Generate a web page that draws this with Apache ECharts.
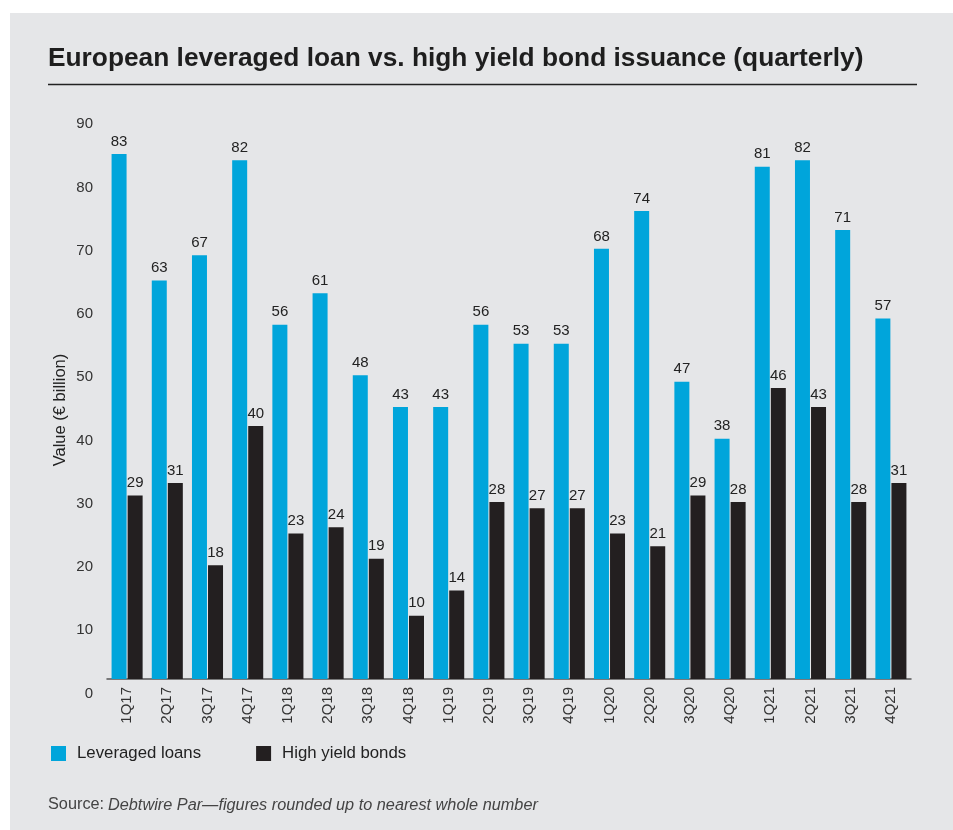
<!DOCTYPE html>
<html><head><meta charset="utf-8">
<script src="https://cdn.jsdelivr.net/npm/echarts@6/dist/echarts.min.js"></script>
<style>html,body{margin:0;padding:0;background:#fff}#c{width:953px;height:830px}</style>
</head><body><div id="c"></div>
<script>
const categories = ['1Q17','2Q17','3Q17','4Q17','1Q18','2Q18','3Q18','4Q18','1Q19','2Q19','3Q19','4Q19','1Q20','2Q20','3Q20','4Q20','1Q21','2Q21','3Q21','4Q21'];
const leveragedLoans = [83,63,67,82,56,61,48,43,43,56,53,53,68,74,47,38,81,82,71,57];
const highYieldBonds = [29,31,18,40,23,24,19,10,14,28,27,27,23,21,29,28,46,43,28,31];
const yTicks = [0,10,20,30,40,50,60,70,80,90];

const FONT = '"Liberation Sans", Arial, Helvetica, sans-serif';
const chart = echarts.init(document.getElementById('c'), null, {renderer:'canvas'});
chart.setOption({
  backgroundColor: '#ffffff',
  animation: false,
  textStyle: {fontFamily: FONT},
  graphic: [
    {type:'rect', left:10, top:13, shape:{width:943, height:817}, style:{fill:'#e5e6e8'}, z:-10},
    {type:'line', shape:{x1:48, y1:84.5, x2:917, y2:84.5}, style:{stroke:'#222', lineWidth:1.5}},
    {type:'text', x:60, y:410, rotation:Math.PI/2, style:{
      text:'Value (€ billion)', fontFamily:FONT, fontSize:16.5, fill:'#222',
      align:'center', verticalAlign:'middle'
    }},
    {type:'text', x:48, y:797, style:{
      text:'Source:', fontFamily:FONT, fontSize:16.3, fill:'#444',
      align:'left', verticalAlign:'top'
    }},
    {type:'text', x:108, y:797, style:{
      text:'Debtwire Par—figures rounded up to nearest whole number', fontFamily:FONT, fontSize:16.3,
      fontStyle:'italic', fill:'#444', align:'left', verticalAlign:'top'
    }}
  ],
  title: {
    text: 'European leveraged loan vs. high yield bond issuance (quarterly)',
    left: 48, top: 46, padding: 0,
    textStyle: {fontFamily: FONT, fontSize: 26.3, fontWeight: 'bold', color: '#1e1e1e'}
  },
  legend: {
    left: 46, top: 740, itemWidth: 15, itemHeight: 15, itemGap: 55,
    icon: 'rect',
    textStyle: {fontFamily: FONT, fontSize: 16.8, color: '#222', padding:[0,0,0,6]},
    data: ['Leveraged loans','High yield bonds']
  },
  grid: {left: 107, right: 42, top: 109.7, bottom: 151, containLabel: false},
  xAxis: {
    type: 'category', data: categories,
    axisLine: {show: true, lineStyle: {color: '#555', width: 1.5}},
    axisTick: {show: false},
    axisLabel: {rotate: 90, margin: 8, fontFamily: FONT, fontSize: 15, color: '#333'}
  },
  yAxis: {
    type: 'value', min: 0, max: 90, interval: 10,
    axisLine: {show: false}, axisTick: {show: false}, splitLine: {show: false},
    axisLabel: {
      margin: 14, fontFamily: FONT, fontSize: 15, color: '#333',
      verticalAlign: 'top', padding: [7,0,0,0],
      formatter: v => yTicks.includes(v) ? String(v) : ''
    }
  },
  series: [
    {name:'Leveraged loans', type:'bar', data: leveragedLoans, barWidth: 15, barGap: '7%',
     itemStyle:{color:'#00a5db'},
     label:{show:true, position:'top', distance:5, fontFamily:FONT, fontSize:15, color:'#222'}},
    {name:'High yield bonds', type:'bar', data: highYieldBonds, barWidth: 15, barGap: '7%',
     itemStyle:{color:'#231f20'},
     label:{show:true, position:'top', distance:5, fontFamily:FONT, fontSize:15, color:'#222'}}
  ]
});
</script></body></html>
